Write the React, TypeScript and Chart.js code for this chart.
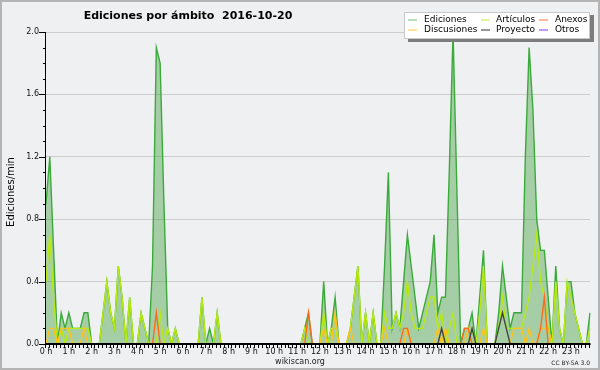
import { useEffect, useRef } from 'react';
import { Chart, registerables } from 'chart.js';

Chart.register(...registerables);

// 10-minute slots, 0:00 .. 23:50
const slots: string[] = Array.from({ length: 144 }, (_, i) => `${Math.floor(i / 6)}:${i % 6}0`);

const hourLabels = [
  '0 h', '1 h', '2 h', '3 h', '4 h', '5 h', '6 h', '7 h', '8 h', '9 h', '10 h', '11 h',
  '12 h', '13 h', '14 h', '15 h', '16 h', '17 h', '18 h', '19 h', '20 h', '21 h', '22 h', '23 h',
];

const yTickLabels = ['0.0', '0.4', '0.8', '1.2', '1.6', '2.0'];

// one row per hour (6 x 10 min)
const ediciones = [
  0.9, 1.2, 0.6, 0, 0.2, 0.1,
  0.2, 0.1, 0.1, 0.1, 0.2, 0.2,
  0, 0, 0, 0.2, 0.4, 0.2,
  0.1, 0.5, 0.3, 0, 0.3, 0,
  0, 0.2, 0.1, 0, 0.5, 1.9,
  1.8, 0.9, 0.1, 0, 0.1, 0,
  0, 0, 0, 0, 0, 0.3,
  0, 0.1, 0, 0.2, 0, 0,
  0, 0, 0, 0, 0, 0,
  0, 0, 0, 0, 0, 0,
  0, 0, 0, 0, 0, 0,
  0, 0, 0.1, 0.2, 0, 0,
  0, 0.4, 0, 0.1, 0.3, 0,
  0, 0, 0.1, 0.3, 0.5, 0,
  0.2, 0, 0.2, 0, 0, 0.5,
  1.1, 0.1, 0.2, 0.1, 0.4, 0.7,
  0.5, 0.3, 0.1, 0.2, 0.3, 0.4,
  0.7, 0.2, 0.3, 0.3, 1.1, 2.0,
  1.0, 0, 0.1, 0.1, 0.2, 0,
  0.3, 0.6, 0, 0, 0, 0.2,
  0.5, 0.3, 0.1, 0.2, 0.2, 0.2,
  1.2, 1.9, 1.5, 0.8, 0.6, 0.6,
  0.3, 0, 0.5, 0.1, 0, 0.4,
  0.4, 0.2, 0.1, 0, 0, 0.2,
];

const articulos = [
  0.4, 0.7, 0.3, 0, 0.1, 0,
  0.1, 0.1, 0.1, 0.1, 0.1, 0.1,
  0, 0, 0, 0.2, 0.4, 0.2,
  0.1, 0.5, 0.3, 0, 0.3, 0,
  0, 0.2, 0.1, 0, 0, 0,
  0.2, 0, 0.1, 0, 0.1, 0,
  0, 0, 0, 0, 0, 0.3,
  0, 0, 0, 0.2, 0, 0,
  0, 0, 0, 0, 0, 0,
  0, 0, 0, 0, 0, 0,
  0, 0, 0, 0, 0, 0,
  0, 0, 0.1, 0, 0, 0,
  0, 0.2, 0, 0.1, 0.1, 0,
  0, 0, 0.1, 0.3, 0.5, 0,
  0.2, 0, 0.2, 0, 0, 0.2,
  0.1, 0.1, 0.2, 0.1, 0.2, 0.4,
  0.2, 0.1, 0.1, 0.1, 0.2, 0.3,
  0.3, 0.1, 0.2, 0, 0.1, 0.2,
  0, 0, 0, 0, 0.1, 0,
  0.2, 0.5, 0, 0, 0, 0.1,
  0.3, 0.1, 0.1, 0.1, 0.1, 0.1,
  0.2, 0.3, 0.5, 0.7, 0.4, 0.3,
  0.1, 0, 0.4, 0.1, 0, 0.4,
  0.3, 0.2, 0.1, 0, 0, 0.1,
];

const anexos = [
  0, 0, 0, 0, 0, 0,
  0, 0, 0, 0, 0, 0,
  0, 0, 0, 0, 0, 0,
  0, 0, 0, 0, 0, 0,
  0, 0, 0, 0, 0, 0.2,
  0, 0, 0, 0, 0, 0,
  0, 0, 0, 0, 0, 0,
  0, 0, 0, 0, 0, 0,
  0, 0, 0, 0, 0, 0,
  0, 0, 0, 0, 0, 0,
  0, 0, 0, 0, 0, 0,
  0, 0, 0, 0.2, 0, 0,
  0, 0, 0, 0, 0, 0,
  0, 0, 0, 0, 0, 0,
  0, 0, 0, 0, 0, 0,
  0, 0, 0, 0, 0.1, 0.1,
  0, 0, 0, 0, 0, 0,
  0, 0, 0, 0, 0, 0,
  0, 0, 0.1, 0.1, 0, 0,
  0, 0, 0, 0, 0, 0,
  0, 0, 0, 0, 0, 0,
  0, 0, 0, 0, 0.1, 0.3,
  0, 0, 0, 0, 0, 0,
  0, 0, 0, 0, 0, 0,
];

const discusiones = [
  0, 0.1, 0.1, 0, 0.1, 0.1,
  0.1, 0, 0, 0, 0.1, 0,
  0, 0, 0, 0, 0, 0,
  0, 0, 0, 0, 0, 0,
  0, 0, 0, 0, 0, 0,
  0, 0, 0, 0, 0, 0,
  0, 0, 0, 0, 0, 0,
  0, 0, 0, 0, 0, 0,
  0, 0, 0, 0, 0, 0,
  0, 0, 0, 0, 0, 0,
  0, 0, 0, 0, 0, 0,
  0, 0, 0, 0, 0, 0,
  0, 0.1, 0, 0, 0.2, 0,
  0, 0, 0.1, 0, 0, 0,
  0, 0, 0, 0, 0, 0.1,
  0, 0, 0, 0, 0, 0.1,
  0, 0, 0, 0, 0, 0,
  0, 0.1, 0, 0.1, 0, 0,
  0, 0, 0, 0.1, 0, 0,
  0, 0.1, 0, 0, 0, 0,
  0, 0, 0, 0.1, 0.1, 0.1,
  0, 0.1, 0, 0, 0.1, 0.1,
  0.1, 0, 0, 0, 0, 0,
  0, 0, 0, 0, 0, 0,
];

const proyecto = [
  0, 0, 0, 0, 0, 0,
  0, 0, 0, 0, 0, 0,
  0, 0, 0, 0, 0, 0,
  0, 0, 0, 0, 0, 0,
  0, 0, 0, 0, 0, 0,
  0, 0, 0, 0, 0, 0,
  0, 0, 0, 0, 0, 0,
  0, 0, 0, 0, 0, 0,
  0, 0, 0, 0, 0, 0,
  0, 0, 0, 0, 0, 0,
  0, 0, 0, 0, 0, 0,
  0, 0, 0, 0, 0, 0,
  0, 0, 0, 0, 0, 0,
  0, 0, 0, 0, 0, 0,
  0, 0, 0, 0, 0, 0,
  0, 0, 0, 0, 0, 0,
  0, 0, 0, 0, 0, 0,
  0, 0, 0.1, 0, 0, 0,
  0, 0, 0, 0, 0.1, 0,
  0, 0, 0, 0, 0, 0.1,
  0.2, 0.1, 0, 0, 0, 0,
  0, 0, 0, 0, 0, 0,
  0, 0, 0, 0, 0, 0,
  0, 0, 0, 0, 0, 0,
];

const otros = [
  0, 0, 0, 0, 0, 0, 0, 0, 0, 0, 0, 0, 0, 0, 0, 0, 0, 0, 0, 0, 0, 0, 0, 0,
  0, 0, 0, 0, 0, 0, 0, 0, 0, 0, 0, 0, 0, 0, 0, 0, 0, 0, 0, 0, 0, 0, 0, 0,
  0, 0, 0, 0, 0, 0, 0, 0, 0, 0, 0, 0, 0, 0, 0, 0, 0, 0, 0, 0, 0, 0, 0, 0,
  0, 0, 0, 0, 0, 0, 0, 0, 0, 0, 0, 0, 0, 0, 0, 0, 0, 0, 0, 0, 0, 0, 0, 0,
  0, 0, 0, 0, 0, 0, 0, 0, 0, 0, 0, 0, 0, 0, 0, 0, 0, 0, 0, 0, 0, 0, 0, 0,
  0, 0, 0, 0, 0, 0, 0, 0, 0, 0, 0, 0, 0, 0, 0, 0, 0, 0, 0, 0, 0, 0, 0, 0,
];

const COLORS: Record<string, string> = {
  Ediciones: '#3aaa3a',
  Artículos: '#b8ea10',
  Anexos: '#ff6a1a',
  Discusiones: '#ffc21a',
  Proyecto: '#444444',
  Otros: '#8a3ee6',
};
const LEGEND_COLORS: Record<string, string> = {
  Ediciones: '#82cc82',
  Artículos: '#cdee5a',
  Anexos: '#ff8a55',
  Discusiones: '#ffd050',
  Proyecto: '#555555',
  Otros: '#9a55ee',
};

const FONT = '"DejaVu Sans", Verdana, sans-serif';

const decorPlugin = {
  id: 'decor',
  beforeDraw(chart: any) {
    const { ctx, width, height } = chart;
    ctx.save();
    ctx.fillStyle = '#eff0f1';
    ctx.fillRect(0, 0, width, height);
    ctx.restore();
  },
  afterDatasetsDraw(chart: any) {
    const { ctx, chartArea } = chart;
    const xs = chart.scales.x;
    const ys = chart.scales.y;
    ctx.save();
    ctx.strokeStyle = '#000';
    ctx.lineWidth = 1;
    ctx.beginPath();
    ctx.moveTo(chartArea.left - 0.5, chartArea.top);
    ctx.lineTo(chartArea.left - 0.5, chartArea.bottom + 0.5);
    ctx.lineTo(chartArea.right + 0.5, chartArea.bottom + 0.5);
    ctx.stroke();
    ctx.lineWidth = 1.6;
    ctx.beginPath();
    ctx.moveTo(chartArea.left - 0.5, chartArea.bottom - 0.3);
    ctx.lineTo(chartArea.right + 0.5, chartArea.bottom - 0.3);
    ctx.stroke();
    ctx.lineWidth = 1;
    ctx.beginPath();
    for (let i = 0; i < slots.length; i++) {
      const x = Math.round(xs.getPixelForValue(i)) - 0.5;
      ctx.moveTo(x, chartArea.bottom);
      ctx.lineTo(x, chartArea.bottom + 4);
    }
    ctx.stroke();
    ctx.beginPath();
    for (let k = 0; k <= 20; k++) {
      const y = Math.round(ys.getPixelForValue(k / 10)) + 0.5;
      const len = k % 4 === 0 ? 7 : 3;
      ctx.moveTo(chartArea.left - len, y);
      ctx.lineTo(chartArea.left, y);
    }
    ctx.stroke();
    ctx.restore();
  },
  afterDraw(chart: any) {
    const { ctx, width, height } = chart;
    ctx.save();
    ctx.fillStyle = '#000';
    ctx.font = `bold 11px ${FONT}`;
    ctx.textAlign = 'center';
    ctx.textBaseline = 'alphabetic';
    ctx.fillText('Ediciones por ámbito  2016-10-20', 188, 19);

    // y axis title
    ctx.save();
    ctx.translate(11, 192);
    ctx.rotate(-Math.PI / 2);
    ctx.font = `10px ${FONT}`;
    ctx.textAlign = 'center';
    ctx.textBaseline = 'middle';
    ctx.fillText('Ediciones/min', 0, 0);
    ctx.restore();

    const bx = 404, by = 12, bw = 186, bh = 27;
    ctx.fillStyle = '#7d7d7d';
    ctx.fillRect(bx + 4, by + 3, bw, bh);
    ctx.fillStyle = '#ffffff';
    ctx.fillRect(bx, by, bw, bh);
    ctx.strokeStyle = '#c8c8c8';
    ctx.lineWidth = 1;
    ctx.strokeRect(bx + 0.5, by + 0.5, bw - 1, bh - 1);
    const cols = [[408, 424], [481, 496], [539, 555]];
    const rows = [19.5, 29.5];
    const layout = [
      ['Ediciones', 'Artículos', 'Anexos'],
      ['Discusiones', 'Proyecto', 'Otros'],
    ];
    ctx.font = `9px ${FONT}`;
    ctx.textAlign = 'left';
    ctx.textBaseline = 'middle';
    layout.forEach((row, r) => {
      row.forEach((name, c) => {
        const [lx, tx] = cols[c];
        const y = rows[r];
        ctx.strokeStyle = LEGEND_COLORS[name];
        ctx.lineWidth = 1.2;
        ctx.beginPath();
        ctx.moveTo(lx, y + 0.5);
        ctx.lineTo(lx + 9, y + 0.5);
        ctx.stroke();
        ctx.fillStyle = '#000';
        ctx.fillText(name, tx, y + 0.5);
      });
    });

    ctx.fillStyle = '#222';
    ctx.font = `8px ${FONT}`;
    ctx.textAlign = 'center';
    ctx.textBaseline = 'alphabetic';
    ctx.fillText('wikiscan.org', 300, 364);
    ctx.font = `6px ${FONT}`;
    ctx.textAlign = 'right';
    ctx.fillText('CC BY-SA 3.0', 590, 365);

    ctx.strokeStyle = '#b4b4b4';
    ctx.lineWidth = 2;
    ctx.strokeRect(1, 1, width - 2, height - 2);
    ctx.restore();
  },
};

export default function App() {
  const ref = useRef<HTMLCanvasElement | null>(null);

  useEffect(() => {
    if (!ref.current) return;
    const mk = (name: string, data: number[], order: number, extra: any = {}) => ({
      label: name,
      data,
      borderColor: COLORS[name],
      borderWidth: 1.4,
      pointRadius: 0,
      tension: 0,
      fill: false,
      order,
      ...extra,
    });
    const chart = new Chart(ref.current, {
      type: 'line',
      data: {
        labels: slots,
        datasets: [
          mk('Proyecto', proyecto, 0),
          mk('Otros', otros, 1),
          mk('Anexos', anexos, 2),
          mk('Discusiones', discusiones, 3),
          mk('Artículos', articulos, 4),
          mk('Ediciones', ediciones, 5, {
            fill: 'origin',
            backgroundColor: 'rgba(46,150,46,0.38)',
          }),
        ],
      },
      options: {
        animation: false,
        responsive: false,
        devicePixelRatio: 1,
        layout: { padding: { top: 32, right: 10, left: 0, bottom: 0 } },
        plugins: {
          legend: { display: false },
          title: { display: false },
          tooltip: { enabled: false },
        },
        scales: {
          x: {
            type: 'category',
            offset: false,
            grid: { display: false, drawTicks: false },
            border: { display: false },
            ticks: {
              autoSkip: false,
              maxRotation: 0,
              minRotation: 0,
              padding: 3,
              color: '#111',
              font: { family: FONT, size: 8 },
              callback: (_v: any, i: number) => (i % 6 === 0 ? hourLabels[i / 6] : ''),
            },
            afterFit: (s: any) => {
              s.height = 26;
            },
          },
          y: {
            min: 0,
            max: 2,
            grid: {
              drawTicks: false,
              lineWidth: 1,
              color: (c: any) =>
                Math.round(c.tick.value * 10) % 4 === 0 ? '#cccccc' : 'rgba(0,0,0,0)',
            },
            border: { display: false },
            ticks: {
              stepSize: 0.1,
              maxTicksLimit: 100,
              autoSkip: false,
              padding: 7,
              color: '#111',
              font: { family: FONT, size: 8 },
              callback: (v: any) => {
                const k = Math.round(Number(v) * 10);
                return k % 4 === 0 ? yTickLabels[k / 4] : '';
              },
            },
            afterFit: (s: any) => {
              s.width = 46;
            },
          },
        },
      },
      plugins: [decorPlugin],
    } as any);
    return () => chart.destroy();
  }, []);

  return (
    <div style={{ position: 'fixed', left: 0, top: 0, width: 600, height: 370 }}>
      <canvas ref={ref} width={600} height={370} style={{ display: 'block' }} />
    </div>
  );
}
